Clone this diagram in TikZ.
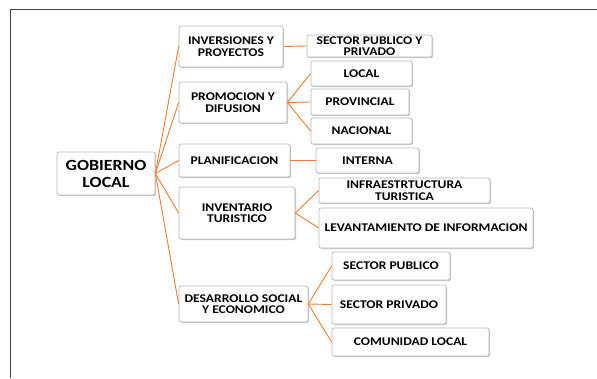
\documentclass[tikz,border=0pt]{standalone}
\usepackage{fontspec}
\setmainfont{Carlito}[FakeStretch=1.15]
\usetikzlibrary{shadows}
\definecolor{conn}{HTML}{ED7D31}
\definecolor{frame}{HTML}{404040}
\tikzset{
  box/.style={draw=gray!55, line width=0.7pt, fill=white, rounded corners=2pt,
    drop shadow={shadow xshift=1pt, shadow yshift=-1pt, opacity=0.45},
    align=center, inner sep=0pt, text=black,
    font=\bfseries\fontsize{11.8}{11.5}\selectfont},
  bigbox/.style={box, font=\bfseries\fontsize{15.5}{17}\selectfont},
  link/.style={draw=conn, line width=0.9pt},
}
\begin{document}
\begin{tikzpicture}[x=1pt,y=-1pt]
\useasboundingbox (0,0) rectangle (597,378);
\draw[frame, line width=1pt] (10,378) -- (10,9) -- (597,9);
% level 0
\node[bigbox, minimum width=98pt, minimum height=43pt] (gob) at (106,173.5) {GOBIERNO\\LOCAL};
% level 1
\node[box, minimum width=104pt, minimum height=41pt] (inv) at (231,46.5) {INVERSIONES Y\\PROYECTOS};
\node[box, minimum width=108pt, minimum height=41pt] (pro) at (233,102.5) {PROMOCION Y\\DIFUSION};
\node[box, minimum width=111pt, minimum height=33pt] (pla) at (234.5,160.5) {PLANIFICACION};
\node[box, minimum width=116pt, minimum height=52pt] (ivt) at (237,213) {INVENTARIO\\TURISTICO};
\node[box, minimum width=129pt, minimum height=36pt] (des) at (243.5,304) {DESARROLLO SOCIAL\\Y ECONOMICO};
% level 2
\node[box, minimum width=125pt, minimum height=22pt] (spp) at (369.5,46) {SECTOR PUBLICO Y\\PRIVADO};
\node[box, minimum width=101pt, minimum height=25pt] (loc) at (361.5,73.5) {LOCAL};
\node[box, minimum width=98pt, minimum height=26pt] (prv) at (360,102) {PROVINCIAL};
\node[box, minimum width=101pt, minimum height=26pt] (nac) at (361.5,131) {NACIONAL};
\node[box, minimum width=103pt, minimum height=25pt] (int) at (367.5,160.5) {INTERNA};
\node[box, minimum width=171pt, minimum height=25pt] (inf) at (404.5,190.5) {INFRAESTRTUCTURA\\TURISTICA};
\node[box, minimum width=214pt, minimum height=40pt] (lev) at (426,228) {LEVANTAMIENTO DE INFORMACION};
\node[box, minimum width=118pt, minimum height=28pt] (spu) at (391,266) {SECTOR PUBLICO};
\node[box, minimum width=114pt, minimum height=39pt] (spr) at (389,304.5) {SECTOR PRIVADO};
\node[box, minimum width=157pt, minimum height=28pt] (com) at (410.5,342) {COMUNIDAD LOCAL};
% connectors
\draw[link] (gob.east) -- (inv.west);
\draw[link] (gob.east) -- (pro.west);
\draw[link] (gob.east) -- (pla.west);
\draw[link] (gob.east) -- (ivt.west);
\draw[link] (gob.east) -- (des.west);
\draw[link] (inv.east) -- (spp.west);
\draw[link] (pro.east) -- (loc.west);
\draw[link] (pro.east) -- (prv.west);
\draw[link] (pro.east) -- (nac.west);
\draw[link] (pla.east) -- (int.west);
\draw[link] (ivt.east) -- (inf.west);
\draw[link] (ivt.east) -- (lev.west);
\draw[link] (des.east) -- (spu.west);
\draw[link] (des.east) -- (spr.west);
\draw[link] (des.east) -- (com.west);
\end{tikzpicture}
\end{document}
